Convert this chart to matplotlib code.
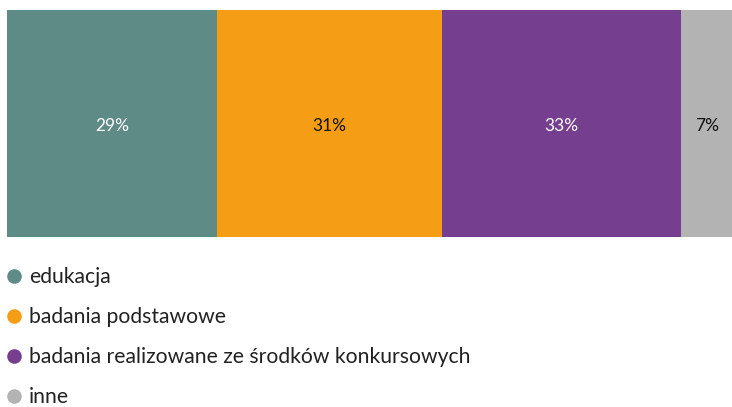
import matplotlib.pyplot as plt
from matplotlib.lines import Line2D

categories = ["edukacja", "badania podstawowe",
              "badania realizowane ze środków konkursowych", "inne"]
shares = [29, 31, 33, 7]
colors = ["#5f8b87", "#f59d14", "#763e8e", "#b3b3b3"]
label_colors = ["white", "#111111", "white", "#111111"]

plt.rcParams['font.family'] = ['Lato', 'DejaVu Sans']

fig = plt.figure(figsize=(7.32, 4.07), dpi=100)
ax = fig.add_axes([7 / 732, 170 / 407, 725 / 732, 227 / 407])

left = 0
for i in range(len(shares)):
    ax.barh(0, shares[i], left=left, height=1, color=colors[i], linewidth=0)
    ax.text(left + shares[i] / 2, -0.01, str(shares[i]) + "%", ha="center",
            va="center", color=label_colors[i], fontsize=12.5)
    left += shares[i]

ax.set_xlim(0, sum(shares))
ax.set_ylim(-0.5, 0.5)
ax.axis("off")

handles = [Line2D([], [], marker="o", linestyle="", markersize=10.5,
                  markerfacecolor=c, markeredgewidth=0) for c in colors]
fig.legend(handles, categories, loc="upper left", bbox_to_anchor=(8 / 732, 0.344),
           frameon=False, fontsize=15.2, labelspacing=0.95, handlelength=0.6,
           handletextpad=0.4, borderaxespad=0, borderpad=0, labelcolor="#222222")

fig.savefig("out.png", dpi=100)
